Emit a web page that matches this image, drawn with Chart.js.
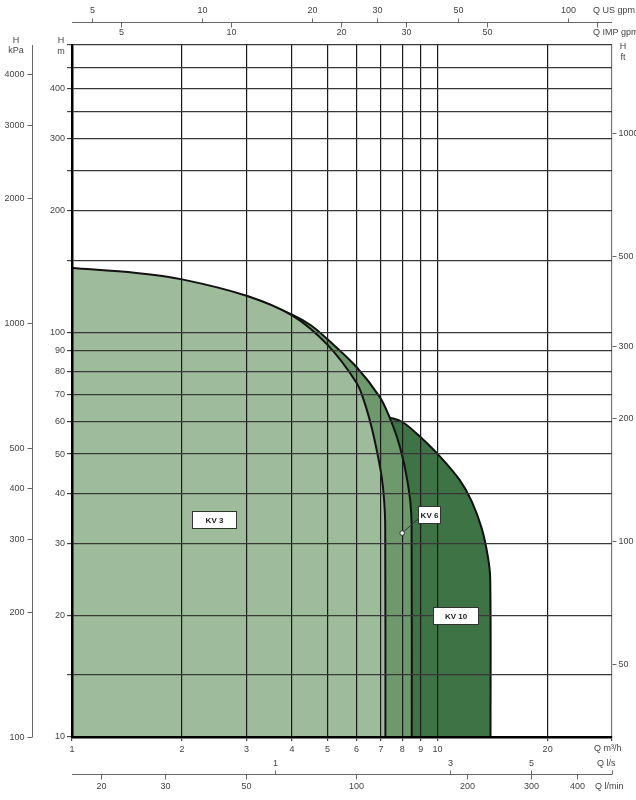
<!DOCTYPE html>
<html>
<head>
<meta charset="utf-8">
<title>KV pump range</title>
<script src="https://cdn.jsdelivr.net/npm/chart.js@4.4.1/dist/chart.umd.min.js"></script>
<style>
  html, body { margin:0; padding:0; background:#fff; }
  #wrap { width:636px; height:800px; }
</style>
</head>
<body>
<div id="wrap"><canvas id="chart" width="636" height="800"></canvas></div>
<script>
// curves, Q in m3/h, H in m
const kv3Q = [1, 1.5, 2, 3, 4, 5, 6, 6.32, 6.61, 6.86, 7.04, 7.14, 7.19, 7.2];
const kv3H = [144, 140, 135, 123, 110, 93, 75, 66.8, 57.9, 49.7, 43.6, 38.5, 33.4, 10];

const kv6Q = [3, 4, 4.5, 5, 6, 6.95, 7.39, 7.74, 8.03, 8.26, 8.43, 8.49, 8.5];
const kv6H = [123, 110.5, 104, 96, 82, 69.1, 61.6, 55.1, 48.9, 43.1, 37.8, 33.4, 10];

const kv10Q = [7.39, 8.03, 8.93, 10.13, 11.5, 12.4, 13.2, 13.71, 13.93, 13.96];
const kv10H = [61.6, 59.9, 55.3, 49.4, 43.1, 38.2, 32.8, 28.1, 24.7, 10];

// main axes
const xTicks = [1, 2, 3, 4, 5, 6, 7, 8, 9, 10, 20, 30];
const xLabels = [1, 2, 3, 4, 5, 6, 7, 8, 9, 10, 20];
const yTicks = [10, 14.3, 20, 30, 40, 50, 60, 70, 80, 90, 100, 150, 200, 250, 300, 350, 400, 450, 512];
const yLabels = [10, 20, 30, 40, 50, 60, 70, 80, 90, 100, 200, 300, 400];

// secondary axes
const usGpmTicks = [5, 10, 20, 30, 50, 100];
const impGpmTicks = [5, 10, 20, 30, 50, 100];
const impGpmLabels = ['5', '10', '20', '30', '50', ''];
const lsTicks = [1, 3, 5];
const lminTicks = [20, 30, 50, 100, 200, 300, 400];
const kpaTicks = [100, 200, 300, 400, 500, 1000, 2000, 3000, 4000];
const ftTicks = [50, 100, 200, 300, 500, 1000];

const FAMILY = '"Liberation Sans", Arial, sans-serif';
const TEXT = '#444';

const curveLabels = [
  { text: 'KV 3', q: 2.445, h: 34.4, w: 44, ht: 17 },
  { text: 'KV 6', q: 9.48, h: 35.4, w: 22, ht: 17, pin: { q: 8.0, h: 31.9 } },
  { text: 'KV 10', q: 11.17, h: 19.95, w: 45, ht: 17 }
];

function pts(qs, hs) {
  return qs.map((q, i) => ({ x: q, y: hs[i] }));
}

function curve(label, qs, hs, color) {
  return {
    label,
    data: pts(qs, hs),
    borderColor: '#111',
    borderWidth: 2,
    backgroundColor: color,
    fill: 'start',
    pointRadius: 0,
    tension: 0.35
  };
}

// draws the unit-conversion axes and curve tags
const extraAxes = {
  id: 'extraAxes',
  afterDraw(chart) {
    const { ctx, chartArea: a, scales } = chart;
    const L = Math.round(a.left), R = Math.round(a.right);
    const T = Math.round(a.top), B = Math.round(a.bottom);
    ctx.save();
    ctx.font = '9px ' + FAMILY;
    ctx.fillStyle = TEXT;
    ctx.strokeStyle = '#666';
    ctx.lineWidth = 1;

    const line = (x0, y0, x1, y1) => {
      ctx.beginPath(); ctx.moveTo(x0, y0); ctx.lineTo(x1, y1); ctx.stroke();
    };
    const text = (s, x, y, align) => {
      ctx.textAlign = align; ctx.textBaseline = 'middle'; ctx.fillText(s, x, y);
    };

    // kPa
    const kx = 32.5;
    line(kx, T, kx, B);
    kpaTicks.forEach(v => {
      const y = Math.round(scales.kpa.getPixelForValue(v)) + 0.5;
      line(kx - 5, y, kx, y);
      text(String(v), kx - 8, y, 'right');
    });
    text('H', 16, 41, 'center');
    text('kPa', 16, 51, 'center');
    text('H', 61, 41, 'center');
    text('m', 61, 52, 'center');

    // ft
    const fx = R + 0.5;
    ftTicks.forEach(v => {
      const y = Math.round(scales.ft.getPixelForValue(v)) + 0.5;
      line(fx, y, fx + 4, y);
      text(String(v), fx + 6, y, 'left');
    });
    text('H', 623, 47, 'center');
    text('ft', 623, 58, 'center');

    // gpm (top)
    const ty = 22.5;
    line(L, ty, R, ty);
    usGpmTicks.forEach(v => {
      const x = Math.round(scales.usgpm.getPixelForValue(v)) + 0.5;
      line(x, ty - 4, x, ty);
      text(String(v), x, 11, 'center');
    });
    impGpmTicks.forEach((v, i) => {
      const x = Math.round(scales.impgpm.getPixelForValue(v)) + 0.5;
      line(x, ty, x, ty + 5);
      if (impGpmLabels[i]) text(impGpmLabels[i], x, 33, 'center');
    });
    text('Q US gpm', 593, 11, 'left');
    text('Q IMP gpm', 593, 33, 'left');

    // l/s and l/min (bottom)
    const by = 774.5;
    line(L, by, R, by);
    lsTicks.forEach(v => {
      const x = Math.round(scales.ls.getPixelForValue(v)) + 0.5;
      line(x, by - 4, x, by);
      text(String(v), x, 764, 'center');
    });
    line(R + 0.5, by - 4, R + 0.5, by);
    lminTicks.forEach(v => {
      const x = Math.round(scales.lmin.getPixelForValue(v)) + 0.5;
      line(x, by, x, by + 5);
      text(String(v), x, 787, 'center');
    });
    text('Q m\u00b3/h', 594, 749, 'left');
    text('Q l/s', 597, 764, 'left');
    text('Q l/min', 595, 787, 'left');

    // curve tags
    ctx.font = 'bold 8px ' + FAMILY;
    curveLabels.forEach(c => {
      const cx = scales.x.getPixelForValue(c.q);
      const cy = scales.y.getPixelForValue(c.h);
      const x0 = Math.round(cx - c.w / 2) + 0.5, y0 = Math.round(cy - c.ht / 2) + 0.5;
      if (c.pin) {
        const px = scales.x.getPixelForValue(c.pin.q);
        const py = scales.y.getPixelForValue(c.pin.h);
        ctx.strokeStyle = '#333';
        line(px, py, x0, y0 + c.ht - 5);
        ctx.beginPath();
        ctx.arc(px, py, 2.3, 0, Math.PI * 2);
        ctx.fillStyle = '#fff';
        ctx.fill();
        ctx.stroke();
      }
      ctx.fillStyle = '#fff';
      ctx.strokeStyle = '#333';
      ctx.fillRect(x0, y0, c.w, c.ht);
      ctx.strokeRect(x0, y0, c.w, c.ht);
      ctx.fillStyle = '#222';
      text(c.text, x0 + c.w / 2, y0 + c.ht / 2 + 0.5, 'center');
    });
    ctx.restore();
  }
};

Chart.defaults.font.family = FAMILY;
Chart.defaults.font.size = 9;
Chart.defaults.color = TEXT;

new Chart(document.getElementById('chart'), {
  type: 'line',
  data: {
    datasets: [
      curve('KV 3', kv3Q, kv3H, '#9ebb9c'),
      curve('KV 6', kv6Q, kv6H, '#6e996d'),
      curve('KV 10', kv10Q, kv10H, '#3e7345')
    ]
  },
  options: {
    responsive: false,
    animation: false,
    layout: { padding: { left: 32, right: 24, top: 45, bottom: 43 } },
    plugins: { legend: { display: false }, tooltip: { enabled: false } },
    scales: {
      x: {
        type: 'logarithmic', position: 'bottom', min: 1, max: 30,
        afterFit: s => { s.height = 20; },
        afterBuildTicks: s => { s.ticks = xTicks.map(v => ({ value: v })); },
        ticks: {
          autoSkip: false, maxRotation: 0, padding: 3, color: TEXT,
          callback: v => xLabels.includes(v) ? String(v) : ''
        },
        grid: {
          z: 1,
          color: c => (c.tick && c.tick.value === 30) ? '#777' : '#1a1a1a',
          lineWidth: 1.2, tickLength: 4, tickColor: '#444'
        },
        border: { z: 2, color: '#000', width: 2.5 }
      },
      y: {
        type: 'logarithmic', position: 'left', min: 10, max: 512,
        afterFit: s => { s.width = 40; },
        afterBuildTicks: s => { s.ticks = yTicks.map(v => ({ value: v })); },
        ticks: {
          autoSkip: false, padding: 2, color: TEXT,
          callback: v => yLabels.includes(v) ? String(v) : ''
        },
        grid: { z: 1, color: '#383838', lineWidth: 1.2, tickLength: 5, tickColor: '#444' },
        border: { z: 2, color: '#000', width: 2.5 }
      },
      kpa: { type: 'logarithmic', axis: 'y', position: 'left', display: false, min: 100, max: 4694 },
      ft: { type: 'logarithmic', axis: 'y', position: 'right', display: false, min: 33.1, max: 1643 },
      usgpm: { type: 'logarithmic', axis: 'x', position: 'top', display: false, min: 4.403, max: 132.09 },
      impgpm: { type: 'logarithmic', axis: 'x', position: 'top', display: false, min: 3.666, max: 109.99 },
      ls: { type: 'logarithmic', axis: 'x', position: 'bottom', display: false, min: 0.27778, max: 8.3333 },
      lmin: { type: 'logarithmic', axis: 'x', position: 'bottom', display: false, min: 16.667, max: 500 }
    }
  },
  plugins: [extraAxes]
});
</script>
</body>
</html>
